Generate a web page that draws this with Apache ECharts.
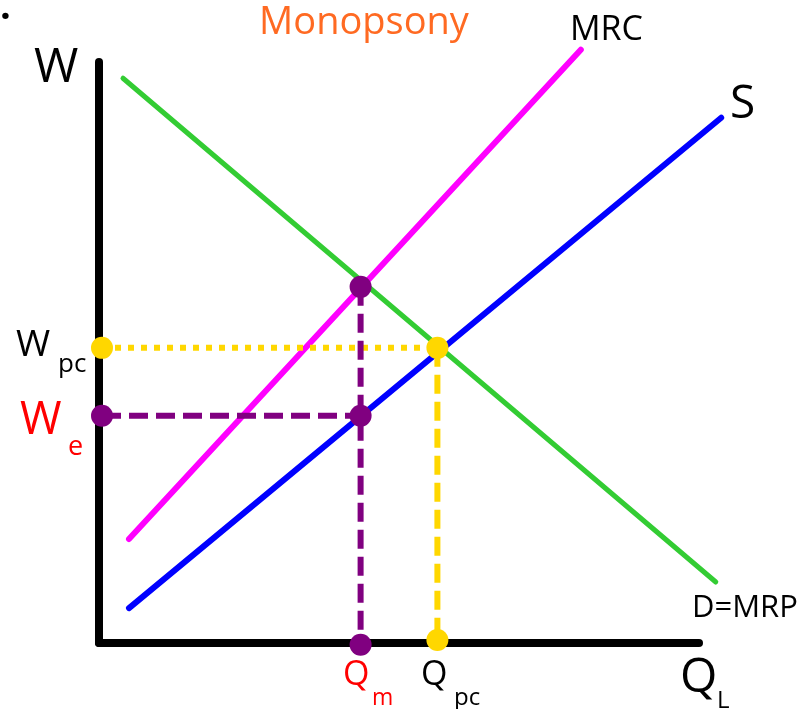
<!DOCTYPE html>
<html>
<head>
<meta charset="utf-8">
<script src="https://cdn.jsdelivr.net/npm/echarts@6/dist/echarts.min.js"></script>
<style>
  html, body { margin: 0; padding: 0; background: #fff; }
  #main { width: 802px; height: 709px; }
</style>
</head>
<body>
<div id="main"></div>
<script>
// curve end points, in axis units (0..100 on both axes)
var demand = [[4.0, 97.2], [102.8, 10.5]];   // D = MRP
var mrc = [[5.0, 17.9], [80.3, 102.1]];      // MRC
var supply = [[5.0, 6.0], [103.7, 90.4]];    // S
var qAxis = [[0, 0], [100, 0]];              // drawn Q axis (stops before curves end)

// key values
var qm = 43.6, qpc = 56.4;
var we = 39.1, wpc = 50.8;
var mrcAtQm = 61.3;

var purpleDots = [[qm, mrcAtQm], [qm, we], [0.5, we], [qm, -0.3]];
var yellowDots = [[0.5, wpc], [qpc, wpc], [qpc, 0.5]];

var FONT = '"Open Sans", "Noto Sans", sans-serif';

var chartDom = document.getElementById("main");
var myChart = echarts.init(chartDom);

function curve(data, color, width) {
  return {
    type: "line",
    data: data,
    symbol: "none",
    clip: false,
    silent: true,
    lineStyle: { color: color, width: width, cap: "round" }
  };
}

function dashed(data, color, dash) {
  return {
    type: "line",
    data: data,
    symbol: "none",
    clip: false,
    silent: true,
    z: 3,
    lineStyle: { color: color, width: 6, type: dash }
  };
}

function dots(data, color) {
  return {
    type: "scatter",
    data: data,
    symbolSize: 22,
    clip: false,
    silent: true,
    z: 5,
    itemStyle: { color: color, opacity: 1 }
  };
}

function txt(s, x, y, size, color, align) {
  return {
    type: "text",
    x: x,
    y: y,
    z: 10,
    style: {
      text: s,
      fill: color || "#000",
      font: size + "px " + FONT,
      textAlign: align || "left",
      textVerticalAlign: "middle"
    }
  };
}

var option = {
  animation: false,
  // x range goes past 100 so the S and D curves can run beyond the Q axis
  grid: { left: 99, right: 79, top: 62, bottom: 66 },
  xAxis: {
    type: "value",
    min: 0,
    max: 104,
    axisLine: { show: false },
    axisTick: { show: false },
    axisLabel: { show: false },
    splitLine: { show: false }
  },
  yAxis: {
    type: "value",
    min: 0,
    max: 100,
    axisLine: { show: true, lineStyle: { color: "#000", width: 8, cap: "round" } },
    axisTick: { show: false },
    axisLabel: { show: false },
    splitLine: { show: false }
  },
  series: [
    curve(qAxis, "#000", 8),
    curve(demand, "#33cc33", 5),
    curve(mrc, "#ff00ff", 6),
    curve(supply, "#0000ff", 6),
    dashed([[0.5, wpc], [qpc, wpc]], "#ffd700", [6, 7]),
    dashed([[qpc, wpc], [qpc, 0.5]], "#ffd700", [19, 8]),
    dashed([[0.5, we], [qm, we]], "#800080", [19, 8]),
    dashed([[qm, mrcAtQm], [qm, -0.3]], "#800080", [19, 8]),
    dots(purpleDots, "#800080"),
    dots(yellowDots, "#ffd700")
  ],
  graphic: [
    { type: "text", x: 0, y: 8, style: { text: ".", font: "bold 38px " + FONT, fill: "#000", textVerticalAlign: "middle" } },
    txt("Monopsony", 364, 23, 38, "#ff6a22", "center"),
    txt("W", 34, 68, 48),
    txt("MRC", 570, 30, 34),
    txt("S", 730, 105, 46),
    txt("D=MRP", 692, 608, 31),
    txt("W", 16, 345, 37),
    txt("pc", 58, 365, 26),
    txt("W", 20, 421, 45, "#ff0000"),
    txt("e", 68, 447, 27, "#ff0000"),
    txt("Q", 343, 675, 34, "#ff0000"),
    txt("m", 372, 698, 23, "#ff0000"),
    txt("Q", 421, 675, 34),
    txt("pc", 454, 698, 24),
    txt("Q", 680, 678, 48),
    txt("L", 717, 701, 24)
  ]
};

option && myChart.setOption(option);
</script>
</body>
</html>
